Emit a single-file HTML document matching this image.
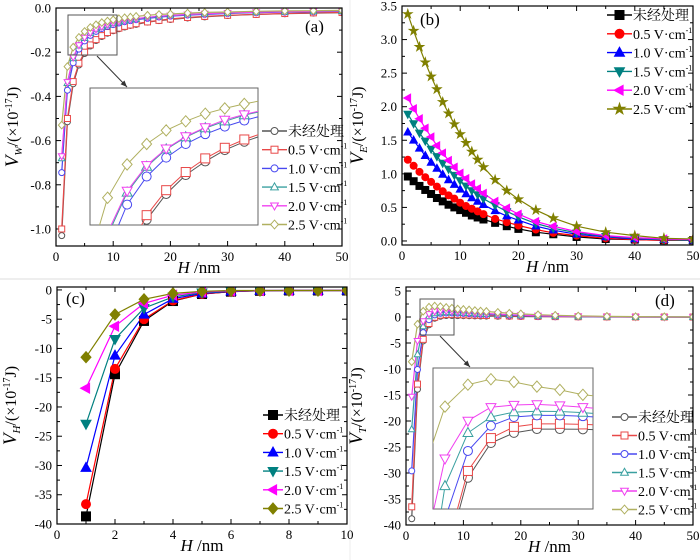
<!DOCTYPE html>
<html><head><meta charset="utf-8"><style>
html,body{margin:0;padding:0;background:#fff;overflow:hidden;}
svg{display:block;font-family:"Liberation Serif","Noto Serif CJK SC",serif;}
</style></head><body>
<svg id="fig" width="700" height="560" viewBox="0 0 700 560" xmlns="http://www.w3.org/2000/svg">
<rect x="0" y="0" width="700" height="560" fill="#fff"/>
<line x1="0" y1="279" x2="700" y2="279" stroke="#ddd" stroke-width="1"/>
<line x1="350" y1="0" x2="350" y2="560" stroke="#eee" stroke-width="1"/>
</svg>
<script>
// ---- data ----
const labels = ["未经处理","0.5 V·cm","1.0 V·cm","1.5 V·cm","2.0 V·cm","2.5 V·cm"];
const hLong = [1,2,3,4,5,6,7,8,9,10,11,12,13,14,16,18,20,23,26,30,35,40,45,50];
const hShort = [1,2,3,4,5,6,7,8,9,10];
// (a) V_W
const vw0 = [-1.03,-0.515,-0.343,-0.258,-0.206,-0.172,-0.147,-0.129,-0.114,-0.103,-0.094,-0.086,-0.079,-0.074,-0.064,-0.057,-0.052,-0.045,-0.040,-0.034,-0.029,-0.026,-0.023,-0.021];
const vw1 = [-1.0,-0.5,-0.333,-0.25,-0.2,-0.167,-0.143,-0.125,-0.111,-0.1,-0.091,-0.083,-0.077,-0.071,-0.063,-0.056,-0.05,-0.043,-0.038,-0.033,-0.029,-0.025,-0.022,-0.02];
const vw2 = [-0.745,-0.372,-0.248,-0.186,-0.149,-0.124,-0.106,-0.093,-0.083,-0.075,-0.068,-0.062,-0.057,-0.053,-0.047,-0.041,-0.037,-0.032,-0.029,-0.025,-0.021,-0.019,-0.017,-0.015];
const vw3 = [-0.68,-0.34,-0.227,-0.17,-0.136,-0.113,-0.097,-0.085,-0.076,-0.068,-0.062,-0.057,-0.052,-0.049,-0.043,-0.038,-0.034,-0.030,-0.026,-0.023,-0.019,-0.017,-0.015,-0.014];
const vw4 = [-0.67,-0.335,-0.223,-0.168,-0.134,-0.112,-0.096,-0.084,-0.074,-0.067,-0.061,-0.056,-0.052,-0.048,-0.042,-0.037,-0.034,-0.029,-0.026,-0.022,-0.019,-0.017,-0.015,-0.013];
const vw5 = [-0.53,-0.265,-0.177,-0.133,-0.106,-0.088,-0.076,-0.066,-0.059,-0.053,-0.048,-0.044,-0.041,-0.038,-0.033,-0.029,-0.027,-0.023,-0.020,-0.018,-0.015,-0.013,-0.012,-0.011];
// (b) V_E
const ve0 = [0.96,0.89,0.82,0.76,0.70,0.64,0.59,0.54,0.50,0.46,0.42,0.38,0.35,0.32,0.27,0.22,0.18,0.13,0.10,0.06,0.03,0.02,0.01,0.01];
const ve1 = [1.21,1.12,1.03,0.95,0.88,0.81,0.74,0.68,0.63,0.57,0.52,0.48,0.44,0.40,0.33,0.28,0.23,0.17,0.12,0.08,0.04,0.02,0.01,0.01];
const ve2 = [1.62,1.50,1.38,1.27,1.17,1.08,0.99,0.91,0.84,0.77,0.70,0.64,0.59,0.54,0.45,0.37,0.31,0.22,0.16,0.10,0.06,0.03,0.02,0.01];
const ve3 = [1.89,1.75,1.61,1.49,1.37,1.26,1.16,1.07,0.98,0.90,0.82,0.75,0.69,0.63,0.53,0.44,0.36,0.26,0.19,0.12,0.07,0.04,0.02,0.01];
const ve4 = [2.13,1.97,1.82,1.68,1.55,1.42,1.31,1.20,1.10,1.01,0.93,0.85,0.78,0.71,0.59,0.49,0.40,0.29,0.22,0.14,0.08,0.05,0.03,0.02];
const ve5 = [3.38,3.13,2.89,2.66,2.45,2.26,2.07,1.90,1.74,1.59,1.46,1.33,1.21,1.10,0.91,0.75,0.62,0.46,0.34,0.22,0.13,0.08,0.04,0.03];
// (c) V_H
const vh0 = [-38.7,-14.4,-5.3,-1.9,-0.7,-0.3,-0.15,-0.1,-0.1,-0.1];
const vh1 = [-36.6,-13.5,-5.0,-1.8,-0.7,-0.3,-0.15,-0.1,-0.1,-0.1];
const vh2 = [-30.4,-11.2,-4.2,-1.5,-0.6,-0.25,-0.12,-0.1,-0.1,-0.1];
const vh3 = [-22.9,-8.4,-3.1,-1.2,-0.45,-0.2,-0.1,-0.1,-0.1,-0.1];
const vh4 = [-16.8,-6.2,-2.3,-0.9,-0.35,-0.15,-0.1,-0.1,-0.1,-0.1];
const vh5 = [-11.5,-4.2,-1.6,-0.6,-0.25,-0.1,-0.1,-0.1,-0.1,-0.1];
// (d) V_T
const vt0 = [-38.8,-13.9,-4.6,-1.5,-0.23,0.14,0.28,0.28,0.27,0.25,0.23,0.21,0.2,0.18,0.15,0.12,0.1,0.07,0.05,0.03,0.01,0,0,-0.01];
const vt1 = [-36.5,-12.9,-4.3,-1.25,-0.05,0.36,0.47,0.47,0.45,0.42,0.39,0.36,0.33,0.3,0.25,0.21,0.17,0.12,0.08,0.05,0.02,0,0,-0.01];
const vt2 = [-29.6,-10.1,-3.0,-0.52,0.4,0.72,0.78,0.78,0.75,0.7,0.64,0.58,0.53,0.49,0.4,0.33,0.27,0.19,0.13,0.08,0.04,0.01,0,0];
const vt3 = [-21.6,-7.2,-1.8,0.14,0.72,0.9,0.93,0.92,0.88,0.82,0.75,0.69,0.63,0.58,0.48,0.4,0.32,0.23,0.16,0.1,0.05,0.02,0.01,0];
const vt4 = [-15.3,-4.6,-0.8,0.58,1.08,1.16,1.18,1.14,1.08,1.0,0.9,0.8,0.73,0.67,0.55,0.45,0.37,0.26,0.19,0.12,0.06,0.03,0.01,0];
const vt5 = [-8.6,-1.4,1.1,1.9,2.1,2.0,1.83,1.71,1.53,1.45,1.35,1.25,1.15,1.06,0.89,0.73,0.6,0.44,0.33,0.21,0.12,0.07,0.04,0.02];

const NS = "http://www.w3.org/2000/svg";
const fig = document.getElementById('fig');
function mk(tag, attrs, parent){
  const e = document.createElementNS(NS, tag);
  for (const k in attrs) e.setAttribute(k, attrs[k]);
  (parent||fig).appendChild(e);
  return e;
}
function marker(g, shape, x, y, r, color, filled){
  const fill = filled ? color : "#fff";
  let e;
  if (shape==="circle") e = mk('circle',{cx:x,cy:y,r:r,fill:fill,stroke:color,'stroke-width':1},g);
  else if (shape==="square") e = mk('rect',{x:x-r,y:y-r,width:2*r,height:2*r,fill:fill,stroke:color,'stroke-width':1},g);
  else {
    let p;
    if (shape==="up") p=[[x,y-r*1.2],[x+r*1.1,y+r*0.8],[x-r*1.1,y+r*0.8]];
    else if (shape==="down") p=[[x,y+r*1.2],[x+r*1.1,y-r*0.8],[x-r*1.1,y-r*0.8]];
    else if (shape==="left") p=[[x-r*1.2,y],[x+r*0.8,y-r*1.1],[x+r*0.8,y+r*1.1]];
    else if (shape==="diamond") p=[[x,y-r*1.25],[x+r*1.1,y],[x,y+r*1.25],[x-r*1.1,y]];
    else if (shape==="star"){ p=[]; for(let i=0;i<10;i++){const a=-Math.PI/2+i*Math.PI/5; const rr=i%2?r*0.5:r*1.3; p.push([x+rr*Math.cos(a),y+rr*Math.sin(a)]);} }
    e = mk('polygon',{points:p.map(q=>q[0].toFixed(1)+","+q[1].toFixed(1)).join(" "),fill:fill,stroke:color,'stroke-width':1},g);
  }
  
  
  return e;
}
function fmt(v,d){ return v.toFixed(d); }

function panel(c){
  const g = mk('g',{});
  
  
  const sx = v => c.x0 + (v - c.xd[0])/(c.xd[1]-c.xd[0])*(c.x1-c.x0);
  const sy = v => c.y1 - (v - c.yd[0])/(c.yd[1]-c.yd[0])*(c.y1-c.y0);
  const clipId = 'clip-'+c.name;
  const cp = mk('clipPath',{id:clipId},g);
  mk('rect',{x:c.x0,y:c.y0,width:c.x1-c.x0,height:c.y1-c.y0},cp);
  const ax = mk('g',{},g);
  
  
  for (let v=c.xd[0]; v<=c.xt[1]+1e-9; v+=c.xminor){
    if (v < c.xt[0]-1e-9) continue;
    const major = Math.abs((v/c.xmajor)-Math.round(v/c.xmajor))<1e-6;
    const X=sx(v); const L=major?5:3;
    mk('line',{x1:X,y1:c.y1,x2:X,y2:c.y1-L,stroke:'#000','stroke-width':1},ax);
    mk('line',{x1:X,y1:c.y0,x2:X,y2:c.y0+L,stroke:'#000','stroke-width':1},ax);
    if (major){
      const t = mk('text',{x:X,y:c.y1+15,'text-anchor':'middle','font-size':13},ax);
      t.textContent = fmt(v,0);
      
      
    }
  }
  const ay = mk('g',{},g);
  
  
  const nMin = Math.round((c.yt[1]-c.yt[0])/c.yminor);
  for (let i=0;i<=nMin;i++){
    const v = c.yt[0]+i*c.yminor;
    const major = Math.abs((v-c.yt[0])/c.ymajor - Math.round((v-c.yt[0])/c.ymajor))<1e-6;
    const Y=sy(v); const L=major?5:3;
    mk('line',{x1:c.x0,y1:Y,x2:c.x0+L,y2:Y,stroke:'#000','stroke-width':1},ay);
    mk('line',{x1:c.x1,y1:Y,x2:c.x1-L,y2:Y,stroke:'#000','stroke-width':1},ay);
    if (major){
      const t = mk('text',{x:c.x0-5,y:Y+4.5,'text-anchor':'end','font-size':13},ay);
      t.textContent = fmt(v,c.ydec);
      
      
    }
  }
  const sg = mk('g',{'clip-path':'url(#'+clipId+')'},g);
  c.series.forEach((s,i)=>{
    const pts = c.xs.map((h,j)=>[sx(h),sy(s[j])]);
    const pl = mk('polyline',{points:pts.map(p=>p[0].toFixed(1)+","+p[1].toFixed(1)).join(" "),fill:'none',stroke:c.colors[i],'stroke-width':1.2},sg);
    
    
  });
  c.series.forEach((s,i)=>{
    c.xs.forEach((h,j)=>marker(sg,c.shapes[i],sx(h),sy(s[j]),c.mr,c.colors[i],c.filled));
  });
  const fr = mk('rect',{x:c.x0,y:c.y0,width:c.x1-c.x0,height:c.y1-c.y0,fill:'none',stroke:'#000','stroke-width':1.2},g);
  
  
  if (c.inset){
    const I = c.inset;
    const ix = v => I.x0 + (v-I.xd[0])/(I.xd[1]-I.xd[0])*(I.x1-I.x0);
    const iy = v => I.y1 - (v-I.yd[0])/(I.yd[1]-I.yd[0])*(I.y1-I.y0);
    const r1 = mk('rect',{x:I.rx0,y:I.ry0,width:I.rx1-I.rx0,height:I.ry1-I.ry0,fill:'none',stroke:'#555','stroke-width':1},g);
    
    
    const ar = mk('line',{x1:I.ax0,y1:I.ay0,x2:I.ax1,y2:I.ay1,stroke:'#333','stroke-width':1},g);
    
    
    const ang = Math.atan2(I.ay1-I.ay0, I.ax1-I.ax0);
    const hp = [[I.ax1,I.ay1],[I.ax1-7*Math.cos(ang-0.4),I.ay1-7*Math.sin(ang-0.4)],[I.ax1-7*Math.cos(ang+0.4),I.ay1-7*Math.sin(ang+0.4)]];
    mk('polygon',{points:hp.map(p=>p.join(",")).join(" "),fill:'#333'},g);
    const bg = mk('rect',{x:I.x0,y:I.y0,width:I.x1-I.x0,height:I.y1-I.y0,fill:'#fff',stroke:'#666','stroke-width':1},g);
    
    
    const icp = mk('clipPath',{id:clipId+'-in'},g);
    mk('rect',{x:I.x0,y:I.y0,width:I.x1-I.x0,height:I.y1-I.y0},icp);
    const ig = mk('g',{'clip-path':'url(#'+clipId+'-in)'},g);
    c.series.forEach((s,i)=>{
      const pts = c.xs.map((h,j)=>[ix(h),iy(s[j])]);
      const pl = mk('polyline',{points:pts.map(p=>p[0].toFixed(1)+","+p[1].toFixed(1)).join(" "),fill:'none',stroke:c.colors[i],'stroke-width':1},ig);
      
      
      c.xs.forEach((h,j)=>marker(ig,c.shapes[i],ix(h),iy(s[j]),4.5,c.colors[i],false));
    });
  }
  const lg = mk('g',{},g);
  
  
  labels.forEach((lab,i)=>{
    const Y = c.ly + i*c.lgap;
    const en = mk('g',{},lg);
    
    
    mk('line',{x1:c.lx,y1:Y,x2:c.lx+c.lw,y2:Y,stroke:c.colors[i],'stroke-width':1.4},en);
    marker(en,c.shapes[i],c.lx+c.lw/2,Y,c.filled?4.5:3.5,c.colors[i],c.filled);
    const t = mk('text',{x:c.lx+c.lw+1,y:Y+5,'font-size':14},en);
    if (i===0) t.textContent = lab;
    else t.innerHTML = lab + '<tspan font-size="8" dy="-6">-1</tspan>';
  });
  const pl = mk('text',{x:c.tagx,y:c.tagy,'font-size':17},g);
  pl.textContent = c.tag;
  
  
  const xt = mk('text',{x:(c.x0+c.x1)/2,y:c.y1+27,'text-anchor':'middle','font-size':17},g);
  xt.innerHTML = '<tspan font-style="italic">H</tspan> /nm';
  
  
  const yt = mk('text',{x:0,y:0,'text-anchor':'middle','font-size':16,transform:'translate('+c.ytx+','+((c.y0+c.y1)/2)+') rotate(-90)'},g);
  yt.innerHTML = '<tspan font-style="italic" font-size="19">V</tspan><tspan font-style="italic" font-size="11" dy="4">'+c.sub+'</tspan><tspan dy="-4">/(×10</tspan><tspan font-size="10" dy="-6">-17</tspan><tspan dy="6">J)</tspan>';
  
  
}

const colA = ['#555','#e84848','#4848f0','#3aa0a0','#f040f0','#b0b060'];
const colB = ['#000','#ff0000','#0000ff','#008080','#ff00ff','#808000'];

panel({name:'panel-a',tag:'(a)',tagx:305,tagy:32,x0:56,x1:342,y0:8,y1:246,xd:[0,50],yd:[-1.077,0],
  xt:[0,50],xmajor:10,xminor:5,yt:[-1.0,0],ymajor:0.2,yminor:0.1,ydec:1,
  xs:hLong,series:[vw0,vw1,vw2,vw3,vw4,vw5],colors:colA,shapes:['circle','square','circle','up','down','diamond'],filled:false,mr:3,
  lx:262,ly:131,lgap:18.7,lw:25,ytx:18,sub:'W',
  inset:{x0:90,x1:258,y0:88,y1:225,xd:[2.1,10.7],yd:[-0.213,-0.032],rx0:68,rx1:117,ry0:15,ry1:55,ax0:97,ay0:56,ax1:127,ay1:87}});

panel({name:'panel-b',tag:'(b)',tagx:420,tagy:25,x0:402,x1:693,y0:6,y1:245,xd:[0,50],yd:[-0.06,3.5],
  xt:[0,50],xmajor:10,xminor:5,yt:[0,3.5],ymajor:0.5,yminor:0.25,ydec:1,
  xs:hLong,series:[ve0,ve1,ve2,ve3,ve4,ve5],colors:colB,shapes:['square','circle','up','down','left','star'],filled:true,mr:3.5,
  lx:607,ly:15,lgap:18.8,lw:25,ytx:363,sub:'E'});

panel({name:'panel-c',tag:'(c)',tagx:66,tagy:304,x0:57,x1:347,y0:287,y1:524,xd:[0,10],yd:[-40,0.5],
  xt:[0,10],xmajor:2,xminor:1,yt:[-40,0],ymajor:5,yminor:2.5,ydec:0,
  xs:hShort,series:[vh0,vh1,vh2,vh3,vh4,vh5],colors:colB,shapes:['square','circle','up','down','left','diamond'],filled:true,mr:4.5,
  lx:263,ly:415,lgap:18.7,lw:20,ytx:16,sub:'H'});

panel({name:'panel-d',tag:'(d)',tagx:655,tagy:306,x0:406,x1:693,y0:287,y1:525,xd:[0,50],yd:[-40,5.77],
  xt:[0,50],xmajor:10,xminor:5,yt:[-40,5],ymajor:5,yminor:2.5,ydec:0,
  xs:hLong,series:[vt0,vt1,vt2,vt3,vt4,vt5],colors:colA,shapes:['circle','square','circle','up','down','diamond'],filled:false,mr:3,
  lx:612,ly:417,lgap:18.5,lw:25,ytx:362,sub:'T',
  inset:{x0:433,x1:593,y0:368,y1:509,xd:[2.48,9.44],yd:[-2.64,2.51],rx0:420,rx1:454,ry0:299,ry1:335,ax0:440,ay0:336,ax1:470,ay1:367}});
</script>
</body></html>
